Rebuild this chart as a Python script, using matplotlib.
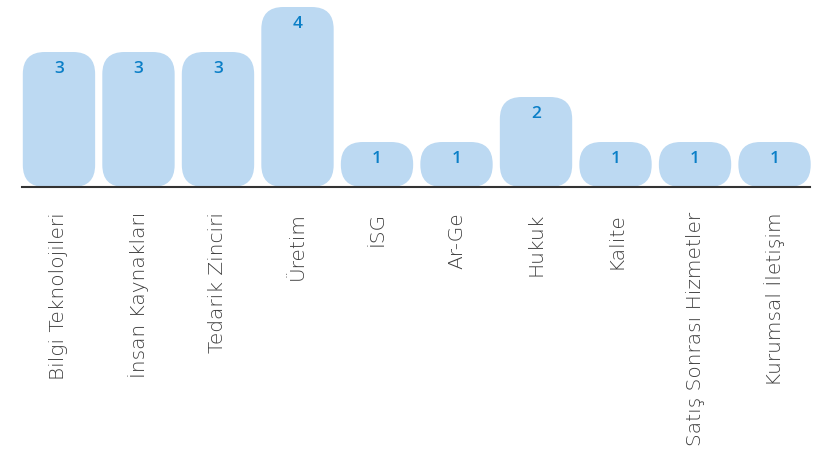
"""Rounded bar chart of department counts."""

import matplotlib.pyplot as plt
from matplotlib.patches import FancyBboxPatch

categories = [
    "Bilgi Teknolojileri",
    "İnsan Kaynakları",
    "Tedarik Zinciri",
    "Üretim",
    "İSG",
    "Ar-Ge",
    "Hukuk",
    "Kalite",
    "Satış Sonrası Hizmetler",
    "Kurumsal İletişim",
]
values = [3, 3, 3, 4, 1, 1, 2, 1, 1, 1]

BAR_COLOR = "#bcd9f2"
LABEL_COLOR = "#0b7fc7"
TEXT_COLOR = "#3c3c3c"

W, H = 818, 453
fig = plt.figure(figsize=(W / 100, H / 100), dpi=100)
ax = fig.add_axes([22 / W, (H - 187) / H, (810 - 22) / W, (187 - 7) / H])

x_left, x_right = -0.465, 9.446
ax.set_xlim(x_left, x_right)
ax.set_ylim(0, 4)

# data units per pixel, so the corner radius stays round on screen
x_per_px = (x_right - x_left) / (810 - 22)
y_per_px = 4 / (187 - 7)
aspect = y_per_px / x_per_px

bar_width = 0.91
for i, v in enumerate(values):
    r_px = min(22, v / y_per_px / 2 - 0.3)
    patch = FancyBboxPatch(
        (i - bar_width / 2, 0), bar_width, v,
        boxstyle=f"round,pad=0,rounding_size={r_px * x_per_px}",
        mutation_aspect=aspect,
        facecolor=BAR_COLOR, edgecolor="none", clip_on=False,
    )
    ax.add_patch(patch)
    ax.text(i, v - 17 * y_per_px, str(v), ha="center", va="center",
            color=LABEL_COLOR, fontsize=12.5, fontweight="semibold",
            family=["Open Sans", "DejaVu Sans"])

ax.set_xticks(range(len(categories)))
ax.set_xticklabels(categories, rotation=90, va="top", ha="center",
                   fontsize=14.5, color=TEXT_COLOR, fontweight="light",
                   family=["DejaVu Sans"])
ax.tick_params(axis="x", length=0, pad=18)
ax.set_yticks([])

for side in ["top", "left", "right"]:
    ax.spines[side].set_visible(False)
ax.spines["bottom"].set_color("#333333")
ax.spines["bottom"].set_linewidth(1.5)
ax.spines["bottom"].set_zorder(5)

fig.savefig("out.png", dpi=100)
